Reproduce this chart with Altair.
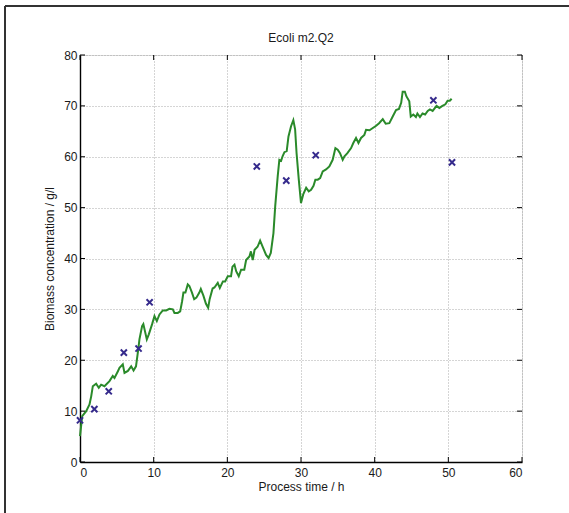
import altair as alt
import pandas as pd

# Continuous online estimate (green line)
line_time = [0.0, 0.3, 0.84, 1.29, 1.52, 1.74, 2.19, 2.55, 2.87, 3.32, 4.0, 4.45, 4.68, 5.13, 5.36,
             5.81, 6.04, 6.5, 6.95, 7.27, 7.6, 7.85, 8.07, 8.43, 8.6, 9.07, 9.34, 9.79, 10.11, 10.43,
             10.79, 11.24, 11.7, 12.14, 12.6, 12.82, 13.27, 13.6, 13.86, 14.04, 14.31, 14.63, 14.85,
             15.2, 15.5, 15.8, 16.2, 16.4, 16.75, 17.1, 17.4, 17.6, 18.0, 18.25, 18.7, 18.98, 19.4,
             19.7, 20.06, 20.5, 20.7, 20.97, 21.2, 21.55, 21.87, 22.3, 22.55, 23.0, 23.2, 23.45,
             23.7, 24.1, 24.45, 24.8, 25.26, 25.6, 25.9, 26.26, 26.5, 26.84, 27.06, 27.3, 27.5,
             27.75, 28.06, 28.3, 28.65, 28.96, 29.2, 29.4, 29.7, 30.0, 30.3, 30.7, 31.05, 31.37,
             31.7, 31.95, 32.27, 32.6, 32.95, 33.4, 33.85, 34.3, 34.67, 34.98, 35.3, 35.66, 35.9,
             36.3, 36.8, 37.1, 37.47, 37.8, 38.15, 38.6, 38.83, 39.3, 39.7, 40.2, 40.6, 41.1, 41.5,
             41.99, 42.45, 42.9, 43.3, 43.6, 43.8, 44.1, 44.3, 44.7, 44.9, 45.25, 45.6, 45.8, 46.15,
             46.5, 46.85, 47.2, 47.5, 47.87, 48.4, 48.78, 49.2, 49.6, 49.9, 50.2, 50.45]
line_biomass = [5.1, 9.0, 10.0, 11.3, 12.9, 14.9, 15.4, 14.6, 15.2, 14.9, 15.9, 16.9, 16.5, 17.8, 18.5,
                19.2, 17.5, 17.9, 18.8, 18.0, 18.8, 21.5, 24.1, 26.7, 27.1, 24.1, 25.1, 27.1, 28.7, 27.7,
                29.0, 29.8, 29.8, 30.1, 30.0, 29.3, 29.3, 29.6, 31.6, 33.3, 33.3, 34.9, 34.6,
                33.3, 32.0, 32.3, 33.3, 34.0, 32.7, 31.1, 30.3, 32.0, 34.1, 34.3, 35.2, 34.2, 35.5,
                35.5, 36.5, 36.5, 38.4, 38.8, 37.5, 36.5, 37.8, 37.8, 39.7, 40.4, 41.4, 39.7,
                41.7, 42.3, 43.5, 42.3, 40.7, 40.1, 41.1, 45.0, 50.3, 56.2, 59.4, 59.2, 60.1,
                60.9, 61.1, 64.0, 66.0, 67.2, 65.4, 60.7, 55.5, 50.9, 52.6, 53.9, 53.2, 53.5,
                54.3, 55.5, 55.5, 55.8, 57.1, 57.5, 58.1, 59.4, 61.7, 61.4, 60.7, 59.4, 60.1,
                60.7, 61.7, 62.7, 63.7, 62.7, 63.7, 64.3, 65.3, 65.2, 65.6, 66.1, 66.6, 67.4, 66.5,
                66.6, 67.9, 69.2, 69.4, 70.6, 72.8, 72.8, 71.9, 70.9, 67.9, 68.3, 67.8, 68.5, 67.8,
                68.5, 68.3, 69.0, 69.3, 69.0, 70.0, 69.6, 70.0, 70.3, 71.0, 71.0, 71.4]

# Offline samples (crosses)
sample_time = [0.0, 1.95, 3.9, 5.95, 7.95, 9.45, 24.0, 28.0, 32.0, 47.97, 50.5]
sample_biomass = [8.2, 10.4, 13.9, 21.5, 22.3, 31.4, 58.1, 55.3, 60.3, 71.1, 58.9]

x_ticks = [0, 10, 20, 30, 40, 50, 60]
y_ticks = [0, 10, 20, 30, 40, 50, 60, 70, 80]

line_df = pd.DataFrame({"t": line_time, "b": line_biomass})
samp_df = pd.DataFrame({"t": sample_time, "b": sample_biomass})
xt_df = pd.DataFrame({"t": x_ticks})
yt_df = pd.DataFrame({"b": y_ticks})

FONT = "Liberation Sans"
TXT = "#1a1a1a"
W, H = 442, 407

xscale = alt.Scale(domain=[0, 60], nice=False, zero=False)
yscale = alt.Scale(domain=[0, 80], nice=False, zero=False)

common = dict(grid=True, ticks=False, labelFont=FONT, titleFont=FONT, labelFontSize=12,
              titleFontSize=12, labelColor=TXT, titleColor=TXT, titleFontWeight="normal",
              gridColor="#a0a0a0", gridDash=[1, 2], gridWidth=0.9,
              domainColor="black", domainWidth=1.4)

xaxis = alt.Axis(values=x_ticks, title="Process time / h", labelPadding=5, titlePadding=3, **common)
yaxis = alt.Axis(values=y_ticks, title="Biomass concentration / g/l", labelPadding=3,
                 titlePadding=7, **common)

line = alt.Chart(line_df).mark_line(color="#2a8a2a", strokeWidth=2).encode(
    x=alt.X("t:Q", scale=xscale, axis=xaxis),
    y=alt.Y("b:Q", scale=yscale, axis=yaxis),
    order="t:Q",
)

pts = alt.Chart(samp_df).mark_point(
    shape="M-1,-1L1,1M-1,1L1,-1", filled=False, color="#352a8c", strokeWidth=2, size=38, opacity=1
).encode(x=alt.X("t:Q", scale=xscale), y=alt.Y("b:Q", scale=yscale))

# inward tick marks on all four sides (MATLAB style)
tk = dict(color="black", strokeWidth=1)
tick_bottom = alt.Chart(xt_df).mark_rule(**tk).encode(
    x=alt.X("t:Q", scale=xscale), y=alt.value(H), y2=alt.value(H - 5))
tick_top = alt.Chart(xt_df).mark_rule(**tk).encode(
    x=alt.X("t:Q", scale=xscale), y=alt.value(0), y2=alt.value(5))
tick_left = alt.Chart(yt_df).mark_rule(**tk).encode(
    y=alt.Y("b:Q", scale=yscale), x=alt.value(0), x2=alt.value(5))
tick_right = alt.Chart(yt_df).mark_rule(**tk).encode(
    y=alt.Y("b:Q", scale=yscale), x=alt.value(W), x2=alt.value(W - 5))

# figure frame (decorative)
frame_left = alt.Chart(samp_df).mark_rule(color="#333", strokeWidth=1).encode(
    x=alt.value(-75), y=alt.value(-49), y2=alt.value(470))
frame_top = alt.Chart(samp_df).mark_rule(color="#333", strokeWidth=1).encode(
    x=alt.value(-75), x2=alt.value(500), y=alt.value(-49))

chart = alt.layer(line, pts, tick_bottom, tick_top, tick_left, tick_right,
                  frame_left, frame_top).properties(
    width=W, height=H,
    title=alt.TitleParams("Ecoli m2.Q2", font=FONT, fontSize=12, fontWeight="normal",
                          color=TXT, offset=9, dy=48, anchor="middle", frame="group"),
    autosize=alt.AutoSizeParams(type="none"),
    padding={"left": 80, "top": 55, "right": 47, "bottom": 51},
).configure_view(stroke="black", strokeWidth=1.4).configure(background="white")

chart.save("out.html", embed_options={"renderer": "svg", "actions": False})
